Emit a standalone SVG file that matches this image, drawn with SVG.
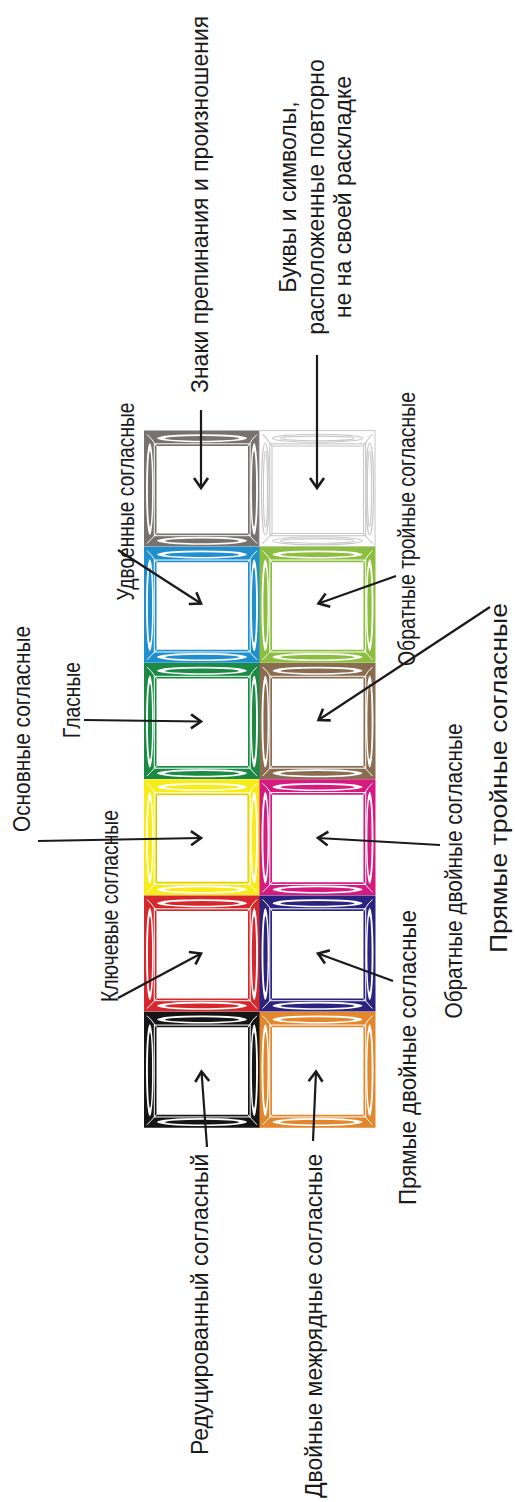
<svg xmlns="http://www.w3.org/2000/svg" width="515" height="1502" viewBox="0 0 515 1502">
<style>
.lbl{font-family:"Liberation Sans",Arial,sans-serif;font-size:23px;fill:#1a1a1a}
.mid{text-anchor:middle}
.con{stroke:#1a1a1a;stroke-width:2.2;fill:none;marker-end:url(#ah)}
.lg{fill:none;stroke:#c8c8c8;stroke-width:1.1}
</style>
<defs>
<marker id="ah" markerUnits="userSpaceOnUse" markerWidth="16" markerHeight="20" viewBox="0 0 16 20" refX="13" refY="10" orient="auto">
<path d="M3,3 L13,10 L3,17" fill="none" stroke="#1a1a1a" stroke-width="2.6"/>
</marker>
<g id="keyShape">
<rect width="116" height="116" fill="currentColor"/>
<ellipse cx="58" cy="7.7" rx="45" ry="4" fill="#fff"/>
<ellipse cx="58" cy="7.9" rx="37" ry="2.3" fill="currentColor"/>
<ellipse cx="58" cy="110.3" rx="45" ry="4" fill="#fff"/>
<ellipse cx="58" cy="110.4" rx="37" ry="2.3" fill="currentColor"/>
<ellipse cx="5.8" cy="58.5" rx="3.8" ry="46" fill="#fff"/>
<ellipse cx="6" cy="58.5" rx="2.1" ry="38" fill="currentColor"/>
<ellipse cx="110.2" cy="58.5" rx="3.8" ry="46" fill="#fff"/>
<ellipse cx="110" cy="58.5" rx="2.1" ry="38" fill="currentColor"/>
<path d="M3,4 Q7,7 12.5,15.5 M113,4 Q109,7 104,15.5 M3,113 Q7,109 12.5,103 M113,113 Q109,109 104,103" fill="none" stroke="#fff" stroke-width="1"/>
<rect x="10.3" y="13.3" width="95.9" height="91.9" fill="none" stroke="#fff" stroke-width="1"/>
<rect x="12.5" y="15.5" width="91.5" height="87.5" fill="#fff"/>
</g>
</defs>

<g id="key-gray"><use href="#keyShape" x="144" y="430.5" color="#77716f"/></g>
<g id="key-lightgray">
<rect x="259.5" y="430.5" width="115.5" height="116" fill="#fff" stroke="#cfcfcf" stroke-width="1.2"/>
<g transform="translate(259.5,430.5)">
<ellipse class="lg" cx="58" cy="7.7" rx="45" ry="4"/>
<ellipse class="lg" cx="58" cy="7.9" rx="37" ry="2.3"/>
<ellipse class="lg" cx="58" cy="110.3" rx="45" ry="4"/>
<ellipse class="lg" cx="58" cy="110.4" rx="37" ry="2.3"/>
<ellipse class="lg" cx="5.8" cy="58.5" rx="3.8" ry="46"/>
<ellipse class="lg" cx="6" cy="58.5" rx="2.1" ry="38"/>
<ellipse class="lg" cx="110.2" cy="58.5" rx="3.8" ry="46"/>
<ellipse class="lg" cx="110" cy="58.5" rx="2.1" ry="38"/>
<path class="lg" d="M3,4 Q7,7 12.5,15.5 M113,4 Q109,7 104,15.5 M3,113 Q7,109 12.5,103 M113,113 Q109,109 104,103"/>
<rect class="lg" x="10.3" y="13.3" width="95.9" height="91.9"/>
<rect class="lg" x="12.5" y="15.5" width="91.5" height="87.5"/>
</g>
</g>
<g id="key-blue"><use href="#keyShape" x="144" y="546.75" color="#1f8fcf"/></g>
<g id="key-lime"><use href="#keyShape" x="259.5" y="546.75" color="#8cbf3f"/></g>
<g id="key-green"><use href="#keyShape" x="144" y="663" color="#1b8a44"/></g>
<g id="key-brown"><use href="#keyShape" x="259.5" y="663" color="#8a6c50"/></g>
<g id="key-yellow"><use href="#keyShape" x="144" y="779.25" color="#f7ec17"/><rect x="156.5" y="794.75" width="91.5" height="87.5" fill="none" stroke="#d2c21a" stroke-width="1"/></g>
<g id="key-magenta"><use href="#keyShape" x="259.5" y="779.25" color="#d61a80"/></g>
<g id="key-red"><use href="#keyShape" x="144" y="895.5" color="#d6282c"/></g>
<g id="key-navy"><use href="#keyShape" x="259.5" y="895.5" color="#2c2280"/></g>
<g id="key-black"><use href="#keyShape" x="144" y="1011.75" color="#151515"/></g>
<g id="key-orange"><use href="#keyShape" x="259.5" y="1011.75" color="#e2872c"/></g>

<g id="connectors">
<line class="con" x1="201" y1="410" x2="201" y2="488"/>
<line class="con" x1="317" y1="355" x2="317" y2="488"/>
<line class="con" x1="118" y1="550" x2="201" y2="603.5"/>
<line class="con" x1="84" y1="720" x2="201" y2="721.5"/>
<line class="con" x1="38" y1="841" x2="201" y2="838"/>
<line class="con" x1="118" y1="998" x2="201" y2="953.5"/>
<line class="con" x1="207" y1="1147" x2="201.5" y2="1071.5"/>
<line class="con" x1="313" y1="1141" x2="316" y2="1071.5"/>
<line class="con" x1="393" y1="981" x2="318" y2="953.5"/>
<line class="con" x1="440" y1="845" x2="318" y2="838"/>
<line class="con" x1="490" y1="607" x2="318.5" y2="720"/>
<line class="con" x1="396" y1="576" x2="318.5" y2="603.5"/>
</g>

<g id="lbl-znaki"><text class="lbl" transform="translate(208,393) rotate(-90)">Знаки препинания и произношения</text></g>
<g id="lbl-bukvy">
<text class="lbl mid" transform="translate(296,197) rotate(-90)">Буквы и символы,</text>
<text class="lbl mid" transform="translate(323.5,197) rotate(-90)">расположенные повторно</text>
<text class="lbl mid" transform="translate(351,197) rotate(-90)">не на своей раскладке</text>
</g>
<g id="lbl-udv"><text class="lbl mid" transform="translate(134,501.5) rotate(-90)" textLength="198" lengthAdjust="spacingAndGlyphs">Удвоенные согласные</text></g>
<g id="lbl-glas"><text class="lbl mid" transform="translate(80,700) rotate(-90)" textLength="76" lengthAdjust="spacingAndGlyphs">Гласные</text></g>
<g id="lbl-osn"><text class="lbl mid" transform="translate(30,729) rotate(-90)" textLength="206" lengthAdjust="spacingAndGlyphs">Основные согласные</text></g>
<g id="lbl-kl"><text class="lbl mid" transform="translate(118,906) rotate(-90)" textLength="192" lengthAdjust="spacingAndGlyphs">Ключевые согласные</text></g>
<g id="lbl-red"><text class="lbl" transform="translate(207.5,1455) rotate(-90)">Редуцированный согласный</text></g>
<g id="lbl-dvm"><text class="lbl" transform="translate(321.5,1498) rotate(-90)">Двойные межрядные согласные</text></g>
<g id="lbl-prd"><text class="lbl" transform="translate(416,1205) rotate(-90)" textLength="295" lengthAdjust="spacingAndGlyphs">Прямые двойные согласные</text></g>
<g id="lbl-obd"><text class="lbl mid" transform="translate(462,871) rotate(-90)" textLength="295" lengthAdjust="spacingAndGlyphs">Обратные двойные согласные</text></g>
<g id="lbl-prt"><text class="lbl mid" transform="translate(507,778) rotate(-90)" textLength="350" lengthAdjust="spacingAndGlyphs">Прямые тройные согласные</text></g>
<g id="lbl-obt"><text class="lbl mid" transform="translate(415,529) rotate(-90)" textLength="274" lengthAdjust="spacingAndGlyphs">Обратные тройные согласные</text></g>
</svg>
